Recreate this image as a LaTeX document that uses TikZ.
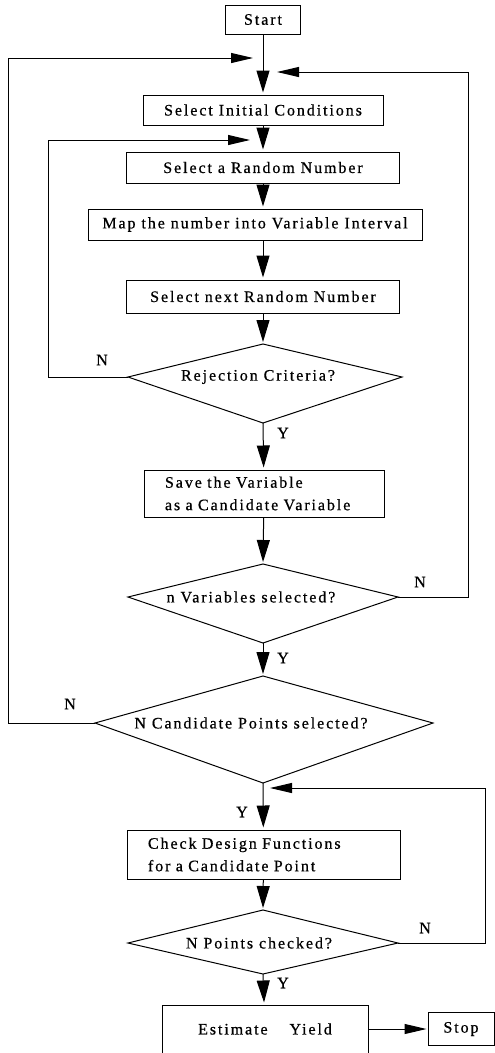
\documentclass[tikz,border=0pt]{standalone}
\usepackage{fontspec}
\setmainfont{Liberation Serif}[LetterSpace=12,FakeBold=0.6]
\usetikzlibrary{shapes.geometric,arrows.meta}
\begin{document}
\begin{tikzpicture}[x=1pt,y=-1pt,-{Triangle[length=22pt,width=13pt]},shorten >=2pt,
            line width=1pt,
            box/.style={draw,rectangle,inner sep=0pt,minimum height=31pt,
                font=\fontsize{16}{19}\selectfont},
            twoline/.style={box,align=left,inner xsep=21pt,
                font=\fontsize{16}{22.5}\selectfont},
            query/.style={font=\fontsize{16}{19}\selectfont},
            answer/.style={font=\fontsize{16}{19}\selectfont},
            loop/.style={-{Triangle[length=22pt,width=10pt]}}]

        \useasboundingbox (0,0) rectangle (495,1053);

        % Define vertices
        \node[box,minimum width=75pt,minimum height=29pt] (start) at (263,19.5) {Start};
        \node[box,minimum width=240pt,minimum height=30pt] (init) at (263,110) {Select Initial Conditions};
        \node[box,minimum width=273pt] (rand) at (263,167.5) {Select a Random Number};
        \node[box,minimum width=334pt] (map) at (255,224.5) {Map the number into Variable Interval};
        \node[box,minimum width=273pt,minimum height=33pt] (next) at (263,296.5) {Select next Random Number};
        \node[query] (rej) at (258,377) {Rejection Criteria?};
        \node[twoline,text width=198pt,minimum height=47pt] (save) at (264,493.5) {Save the Variable\\as a Candidate Variable};
        \node[query] (nvar) at (251,597) {n Variables selected?};
        \node[query] (ncand) at (251,723) {N Candidate Points selected?};
        \node[twoline,text width=231pt,minimum height=49pt] (check) at (263.5,854.5) {Check Design Functions\\for a Candidate Point};
        \node[query] (npts) at (259,943) {N Points checked?};
        \node[box,minimum width=206pt,minimum height=48pt] (est) at (265,1029) {Estimate\quad\ Yield};
        \node[box,minimum width=66pt,minimum height=33pt] (stop) at (461,1029) {Stop};

        % Corners of the decisions
        \coordinate (rej-t) at (263,344);   \coordinate (rej-r) at (402,377);
        \coordinate (rej-b) at (263,423);   \coordinate (rej-l) at (128,377);
        \coordinate (nvar-t) at (263,564);  \coordinate (nvar-r) at (398,597);
        \coordinate (nvar-b) at (263,643);  \coordinate (nvar-l) at (128,597);
        \coordinate (ncand-t) at (263,676); \coordinate (ncand-r) at (433,723);
        \coordinate (ncand-b) at (263,783); \coordinate (ncand-l) at (95,723);
        \coordinate (npts-t) at (263,910);  \coordinate (npts-r) at (398,943);
        \coordinate (npts-b) at (263,974);  \coordinate (npts-l) at (128,943);
        \draw[-] (rej-t) -- (rej-r) -- (rej-b) -- (rej-l) -- cycle;
        \draw[-] (nvar-t) -- (nvar-r) -- (nvar-b) -- (nvar-l) -- cycle;
        \draw[-] (ncand-t) -- (ncand-r) -- (ncand-b) -- (ncand-l) -- cycle;
        \draw[-] (npts-t) -- (npts-r) -- (npts-b) -- (npts-l) -- cycle;

        % Joins on the main line
        \coordinate (j1) at (263,58);
        \coordinate (j2) at (263,72);
        \coordinate (j3) at (263,140);
        \coordinate (j4) at (263,788);

        % Draw edges
        \draw (start) -- (init);
        \draw (init) -- (rand);
        \draw (rand.south) -- (rand.south |- map.north);
        \draw (rand.south |- map.south) -- (next);
        \draw (next) -- (rej-t);
        \draw (rej-b) -- (save);
        \draw (save) -- (nvar-t);
        \draw (nvar-b) -- (ncand-t);
        \draw (ncand-b) -- (check);
        \draw (check) -- (npts-t);
        \draw (npts-b) -- (est);
        \draw[loop,shorten >=1pt] (est) -- (stop);

        % Loops back
        \draw[loop,shorten >=13pt] (rej-l) -- ++(-80,0) |- (j3);
        \draw[loop,shorten >=14pt] (nvar-r) -- ++(70,0) |- (j2);
        \draw[loop,shorten >=10pt] (ncand-l) -- ++(-87,0) |- (j1);
        \draw[loop,shorten >=7pt] (npts-r) -- ++(87,0) |- (j4);

        % Answers
        \node[answer] at (102,360) {N};
        \node[answer] at (283,433) {Y};
        \node[answer] at (420,582) {N};
        \node[answer] at (283,658) {Y};
        \node[answer] at (70,704) {N};
        \node[answer] at (242,812) {Y};
        \node[answer] at (425,928) {N};
        \node[answer] at (283,983) {Y};

        \end{tikzpicture}
\end{document}
